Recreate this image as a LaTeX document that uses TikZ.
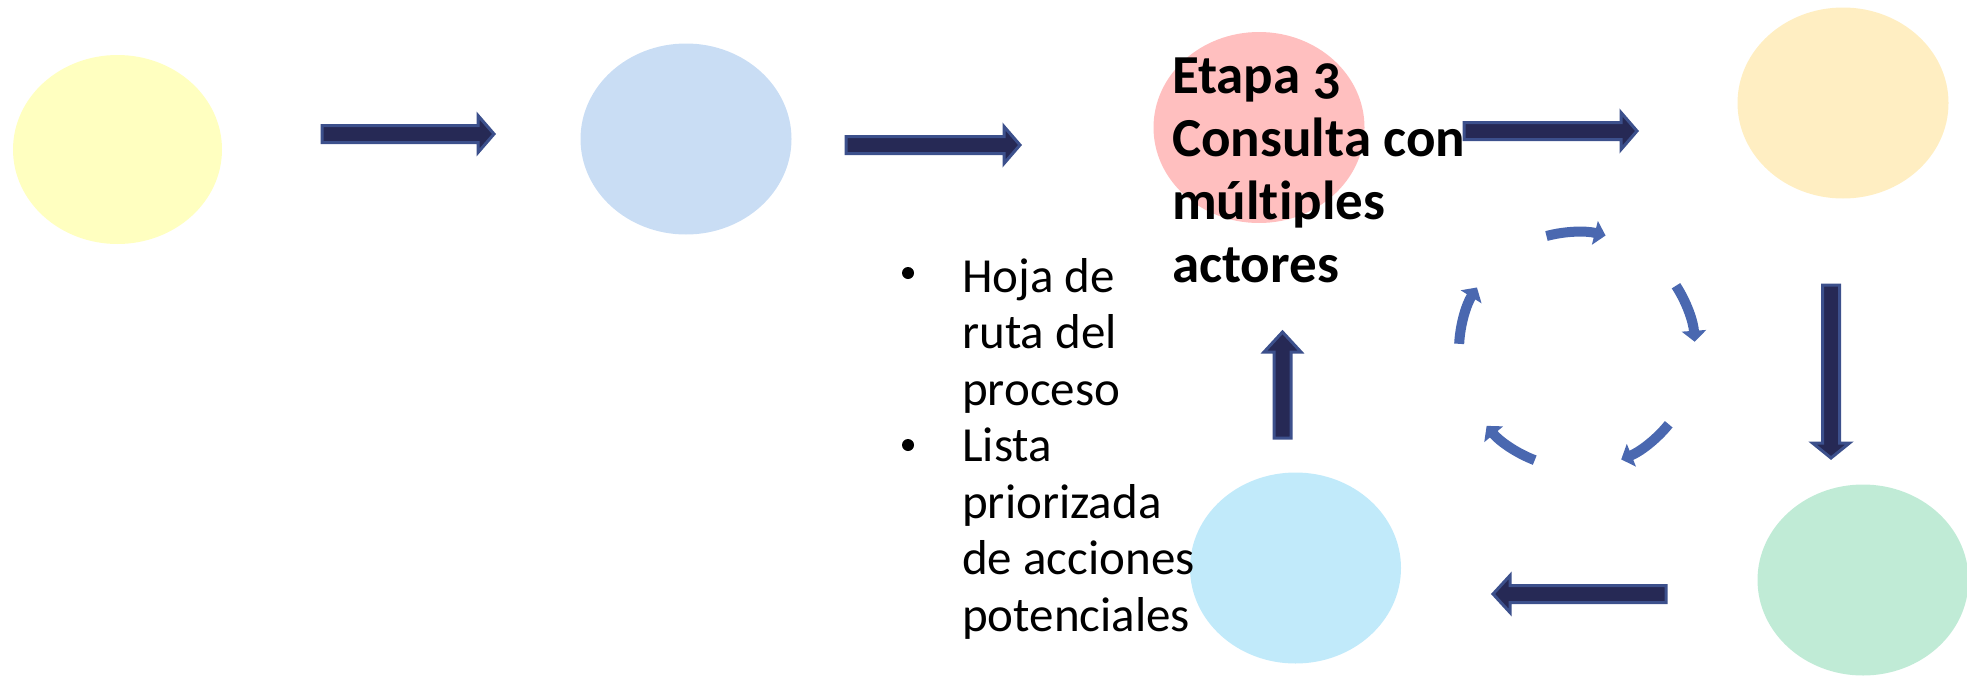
\documentclass[tikz,border=0pt]{standalone}
\usepackage{fontspec}
\setmainfont{Carlito}[Numbers=OldStyle, Ligatures=NoCommon]
\usetikzlibrary{shapes.geometric,arrows.meta}
\definecolor{cYellow}{RGB}{255,255,192}
\definecolor{cBlue}{RGB}{201,221,244}
\definecolor{cPink}{RGB}{255,191,191}
\definecolor{cCream}{RGB}{255,238,194}
\definecolor{cGreen}{RGB}{192,235,214}
\definecolor{cSky}{RGB}{193,234,250}
\definecolor{navyFill}{RGB}{38,41,85}
\definecolor{navyEdge}{RGB}{60,80,140}
\definecolor{cycBlue}{RGB}{74,104,176}
\tikzset{
  ell/.style={ellipse, inner sep=0pt, minimum width=211, minimum height=191},
  barrow/.style={fill=navyFill, draw=navyEdge, line width=3pt, line join=miter},
  cycarc/.style={draw=cycBlue, line width=10pt, -{Triangle[width=24pt,length=11pt]}},
  dot/.style={circle, fill=black, inner sep=0pt, minimum size=12pt}
}
\begin{document}
\begin{tikzpicture}[x=1pt,y=1pt]
\useasboundingbox (0,0) rectangle (1967,-675);
% ellipses
\node[ell, fill=cYellow, minimum width=209, minimum height=189] (e1) at (117.5,-149.5) {};
\node[ell, fill=cBlue] (e2) at (686,-139) {};
\node[ell, fill=cPink] (e3) at (1259,-127.5) {};
\node[ell, fill=cCream] (e4) at (1843,-103) {};
\node[ell, fill=cGreen] (e5) at (1863,-580) {};
\node[ell, fill=cSky] (e6) at (1295.5,-568) {};
% block arrows
\draw[barrow] (322,-125.5) -- (478,-125.5) -- (478,-115.5) -- (494,-134) -- (478,-152.5) -- (478,-142.5) -- (322,-142.5) -- cycle;
\draw[barrow] (846,-136.5) -- (1004,-136.5) -- (1004,-126.5) -- (1020,-145) -- (1004,-163.5) -- (1004,-153.5) -- (846,-153.5) -- cycle;
\draw[barrow] (1464,-122.5) -- (1621,-122.5) -- (1621,-112.5) -- (1637,-131) -- (1621,-149.5) -- (1621,-139.5) -- (1464,-139.5) -- cycle;
\draw[barrow] (1822.5,-285) -- (1822.5,-443) -- (1812.5,-443) -- (1831,-458) -- (1849.5,-443) -- (1839.5,-443) -- (1839.5,-285) -- cycle;
\draw[barrow] (1666,-585.5) -- (1510,-585.5) -- (1510,-575.5) -- (1493,-594) -- (1510,-612.5) -- (1510,-602.5) -- (1666,-602.5) -- cycle;
\draw[barrow] (1274,-438) -- (1274,-352) -- (1264,-352) -- (1282.5,-332) -- (1301,-352) -- (1291,-352) -- (1291,-438) -- cycle;
% cycle arcs
\coordinate (cyc) at (1577,-350);
\foreach \c in {90,18,-54,-126,162}
  \draw[cycarc] ([shift={(\c+15:118)}]cyc) arc[start angle=\c+15, end angle=\c-14, radius=118];
% texts
\node[anchor=base west, align=left, inner sep=0pt, font=\fontsize{55}{63}\selectfont\bfseries] (t3) at (1172,-282) {Etapa 3\\Consulta con\\múltiples\\actores};
\node[dot] (b1) at (908,-273) {};
\node[dot] (b2) at (908,-445) {};
\node[anchor=base west, align=left, inner sep=0pt, font=\fontsize{49}{56.5}\selectfont] (list) at (962,-631) {Hoja de\\ruta del\\proceso\\Lista\\priorizada\\de acciones\\potenciales};
\end{tikzpicture}
\end{document}
